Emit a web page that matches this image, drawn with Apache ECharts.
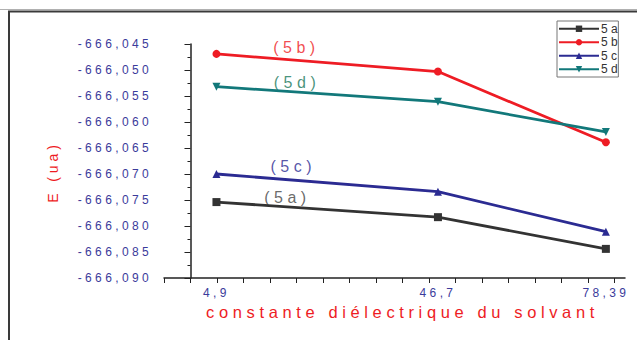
<!DOCTYPE html>
<html>
<head>
<meta charset="utf-8">
<script src="https://cdn.jsdelivr.net/npm/echarts@6/dist/echarts.min.js"></script>
<style>
  html, body { margin: 0; padding: 0; background: #fff; }
  #chart { width: 637px; height: 340px; }
  /* spaced lettering used throughout the figure */
  #chart text { letter-spacing: 0.28em; }
</style>
</head>
<body>
<div id="chart"></div>
<script>
// Dielectric constant of the solvent (x) and energy in ua (y)
const epsilon = [4.9, 46.7, 78.39];
const series5a = [-666.0754, -666.0783, -666.0844];
const series5b = [-666.0469, -666.0503, -666.0639];
const series5c = [-666.0700, -666.0734, -666.0811];
const series5d = [-666.0532, -666.0561, -666.0619];

const seriesNames = ['5a', '5b', '5c', '5d'];
const xTickValues = [-5, 0, 5, 10, 15, 20, 25, 30, 35, 40, 45, 50, 55, 60, 65, 70, 75, 80];

// In-plot tags naming each curve, placed in data units
const tagText = ['(5a)', '(5b)', '(5c)', '(5d)'];
const tagAt = [[18.3, -666.0745], [20.0, -666.0456], [19.4, -666.0686], [20.1, -666.0524]];

const lineColors = ['#333333', '#ee1c24', '#2b2b92', '#12787a'];
const tagColors = ['#444444', '#ee1c24', '#2b2b92', '#17785a'];
const symbols = ['rect', 'circle', 'triangle', 'triangle'];
const symbolRotations = [0, 0, 0, 180];
const values = [series5a, series5b, series5c, series5d];

const fmtComma = v => String(v).replace('.', ',');

const chart = echarts.init(document.getElementById('chart'), null, { renderer: 'svg' });

const series = seriesNames.map((name, i) => ({
  name: name,
  type: 'line',
  data: epsilon.map((x, k) => [x, values[i][k]]),
  symbol: symbols[i],
  symbolRotate: symbolRotations[i],
  symbolSize: 8,
  showAllSymbol: true,
  lineStyle: { color: lineColors[i], width: 2.8 },
  itemStyle: { color: lineColors[i] },
  emphasis: { disabled: true },
  animation: false
}));

// Curve tags drawn as a label-only scatter in data coordinates
series.push({
  name: 'tags',
  type: 'scatter',
  silent: true,
  symbolSize: 0,
  animation: false,
  data: tagText.map((t, i) => ({
    value: tagAt[i],
    label: {
      show: true,
      position: 'inside',
      formatter: t,
      color: tagColors[i],
      fontSize: 16,
      fontFamily: 'Liberation Sans, Arial, sans-serif'
    }
  }))
});

chart.setOption({
  animation: false,
  textStyle: { fontFamily: 'Liberation Sans, Arial, sans-serif' },
  graphic: [
    { type: 'line', shape: { x1: 0, y1: 9.5, x2: 637, y2: 9.5 }, style: { stroke: '#b0b0b0', lineWidth: 1 }, silent: true },
    { type: 'rect', shape: { x: 9, y: 11.5, width: 700, height: 400 }, style: { fill: 'none', stroke: '#3a3a3a', lineWidth: 2 }, silent: true }
  ],
  grid: { left: 164, top: 44, right: 12, bottom: 62, containLabel: false },
  legend: {
    data: seriesNames,
    orient: 'vertical',
    left: 557,
    top: 21,
    itemWidth: 40,
    itemHeight: 8,
    itemGap: 0,
    padding: [1, 4, 1, 1],
    borderColor: '#777',
    borderWidth: 1,
    backgroundColor: '#fff',
    selectedMode: false,
    textStyle: { color: '#333', fontSize: 12, lineHeight: 13.5, padding: [0, 0, 0, -3] }
  },
  xAxis: {
    type: 'value',
    min: -5,
    max: 82,
    name: 'constante diélectrique du solvant',
    nameLocation: 'middle',
    nameGap: 20,
    nameTextStyle: { color: '#ee1c24', fontSize: 16.5, padding: [0, 0, 0, 16] },
    axisLine: { show: true, lineStyle: { color: '#222', width: 1.5 } },
    axisTick: { show: true, length: 5, lineStyle: { color: '#222' }, customValues: xTickValues },
    axisLabel: {
      customValues: epsilon,
      formatter: fmtComma,
      color: '#3b3b9b',
      fontSize: 12,
      margin: 9
    },
    splitLine: { show: false }
  },
  yAxis: {
    type: 'value',
    min: -666.090,
    max: -666.045,
    interval: 0.005,
    name: 'E (ua)',
    nameLocation: 'middle',
    nameRotate: 90,
    nameGap: 104,
    nameTextStyle: { color: '#ee1c24', fontSize: 14, padding: [0, 0, 0, -22] },
    axisLine: { show: true, lineStyle: { color: '#222', width: 1.5 } },
    axisTick: { show: true, length: 6, lineStyle: { color: '#222' } },
    minorTick: { show: true, splitNumber: 2, length: 3, lineStyle: { color: '#222' } },
    axisLabel: {
      formatter: v => v.toFixed(3).replace('.', ','),
      color: '#3b3b9b',
      fontSize: 12,
      margin: 12
    },
    splitLine: { show: false }
  },
  series: series
});
</script>
</body>
</html>
